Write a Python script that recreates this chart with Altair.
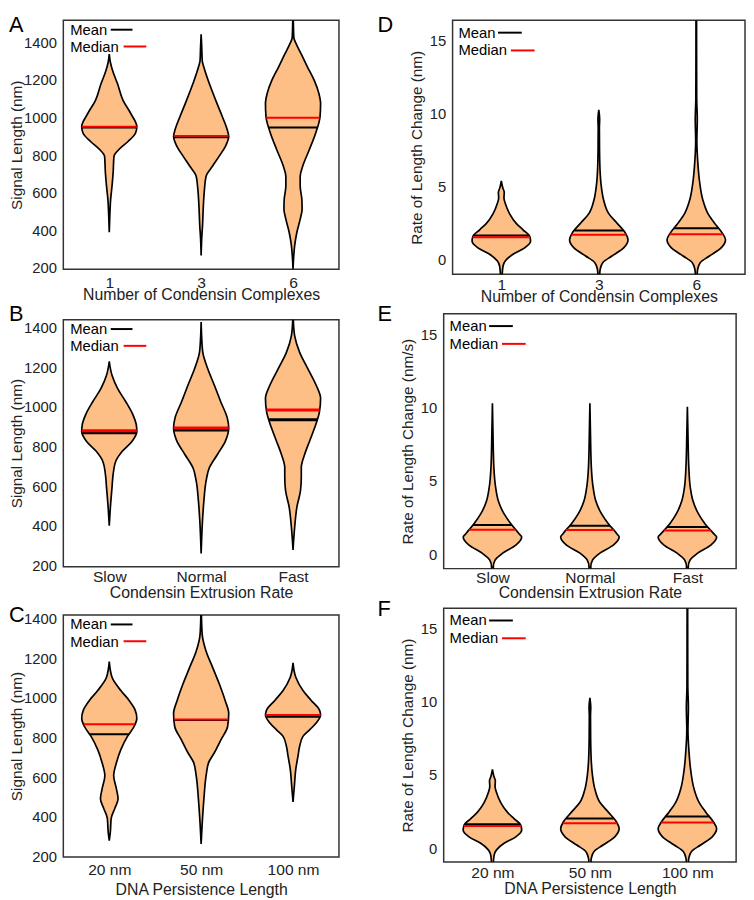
import altair as alt
import numpy as np
import pandas as pd

FONT = "Liberation Sans"
FILL = "#FDBF85"
HALF = 0.3  # half-width of the widest violin, in category units

# ---------------- Panel A: Signal length vs number of condensin complexes ----------------
A_cats = ["1", "3", "6"]
A1_y = [390, 478, 565, 636, 706, 794, 829, 873, 917, 952, 1022, 1092, 1180, 1251, 1295, 1338]
A1_w = [0, 0.02, 0.05, 0.10, 0.14, 0.17, 0.34, 0.68, 0.95, 1.0, 0.78, 0.50, 0.30, 0.12, 0.04, 0]
A3_y = [267, 355, 425, 530, 618, 688, 741, 794, 847, 899, 934, 1005, 1092, 1180, 1268, 1303, 1380, 1444]
A3_w = [0, 0.02, 0.05, 0.08, 0.12, 0.18, 0.41, 0.65, 0.88, 1.0, 0.95, 0.77, 0.53, 0.30, 0.10, 0.04, 0.02, 0]
A6_y = [193, 250, 320, 390, 460, 513, 565, 636, 688, 741, 829, 917, 1005, 1075, 1128, 1198, 1268, 1338, 1391, 1426, 1518]
A6_w = [0, 0.02, 0.06, 0.14, 0.26, 0.33, 0.32, 0.26, 0.26, 0.35, 0.59, 0.82, 0.98, 1.0, 0.94, 0.77, 0.53, 0.30, 0.12, 0.03, 0.01]
A_mean = [948, 896, 947]
A_median = [952, 903, 999]

# ---------------- Panel B: Signal length vs extrusion rate ----------------
B_cats = ["Slow", "Normal", "Fast"]
BS_y = [400, 511, 594, 660, 727, 777, 827, 876, 910, 960, 1026, 1093, 1159, 1229]
BS_w = [0, 0.05, 0.10, 0.14, 0.24, 0.48, 0.83, 1.0, 0.98, 0.86, 0.60, 0.30, 0.10, 0]
BN_y = [261, 428, 527, 627, 694, 760, 827, 893, 943, 1026, 1109, 1192, 1275, 1350, 1428]
BN_w = [0, 0.05, 0.10, 0.18, 0.30, 0.59, 0.88, 1.0, 0.95, 0.71, 0.48, 0.24, 0.06, 0.02, 0]
BF_y = [278, 394, 494, 577, 644, 694, 760, 827, 893, 976, 1043, 1109, 1192, 1275, 1358, 1440]
BF_w = [0, 0.06, 0.14, 0.27, 0.30, 0.30, 0.42, 0.60, 0.78, 0.96, 1.0, 0.84, 0.54, 0.24, 0.06, 0.01]
B_mean = [870, 883, 935]
B_median = [880, 893, 984]

# ---------------- Panel C: Signal length vs DNA persistence length ----------------
C_cats = ["20 nm", "50 nm", "100 nm"]
C20_y = [278, 324, 391, 441, 490, 540, 607, 673, 739, 806, 856, 897, 939, 988, 1038, 1105, 1184]
C20_w = [0, 0.04, 0.07, 0.20, 0.32, 0.26, 0.16, 0.26, 0.42, 0.66, 0.90, 1.0, 0.94, 0.72, 0.42, 0.10, 0]
C50_y = [261, 391, 490, 607, 673, 723, 789, 856, 922, 988, 1071, 1154, 1237, 1320, 1420]
C50_w = [0, 0.05, 0.10, 0.18, 0.27, 0.48, 0.72, 0.96, 1.0, 0.87, 0.66, 0.42, 0.18, 0.04, 0.01]
C100_y = [474, 557, 640, 706, 756, 806, 839, 872, 914, 939, 988, 1038, 1105, 1178]
C100_w = [0, 0.05, 0.10, 0.18, 0.24, 0.36, 0.60, 0.83, 1.0, 0.96, 0.66, 0.36, 0.10, 0]
C_mean = [817, 889, 905]
C_median = [867, 892, 914]

# ---------------- Panel D: Rate of length change vs number of complexes ----------------
D_cats = ["1", "3", "6"]
D1_y = [-1.03, -0.45, -0.11, 0.34, 0.78, 1.23, 1.57, 2.02, 2.46, 3.13, 3.8, 4.2, 4.6, 4.9, 5.37]
D1_w = [0.03, 0.06, 0.14, 0.40, 0.80, 1.0, 0.97, 0.74, 0.51, 0.28, 0.14, 0.09, 0.10, 0.05, 0]
D3_y = [-1.03, -0.67, -0.22, 0.22, 0.78, 1.34, 1.79, 2.46, 3.13, 4.03, 4.93, 5.82, 7.5, 9.0, 9.6, 10.25]
D3_w = [0.03, 0.05, 0.14, 0.45, 0.85, 1.0, 0.91, 0.63, 0.34, 0.17, 0.09, 0.05, 0.025, 0.02, 0.03, 0]
D6_y = [-1.03, -0.67, -0.22, 0.22, 0.78, 1.34, 1.79, 2.46, 3.13, 4.03, 5.37, 6.72, 8.06, 9.6, 11.0, 13.0, 16.4]
D6_w = [0.03, 0.05, 0.14, 0.45, 0.85, 1.0, 0.89, 0.63, 0.40, 0.23, 0.11, 0.05, 0.02, 0.035, 0.015, 0.012, 0.01]
D_mean = [1.63, 1.97, 2.13]
D_median = [1.50, 1.68, 1.72]

# ---------------- Panel E: Rate of length change vs extrusion rate ----------------
E_cats = ["Slow", "Normal", "Fast"]
ES_y = [-0.99, -0.86, -0.41, 0.05, 0.61, 1.17, 1.40, 2.08, 2.75, 3.65, 4.56, 5.91, 8.17, 10.31]
ES_w = [0.03, 0.03, 0.09, 0.34, 0.80, 1.0, 0.91, 0.63, 0.40, 0.20, 0.11, 0.05, 0.02, 0]
EN_y = [-0.99, -0.86, -0.41, 0.05, 0.61, 1.17, 1.40, 2.08, 2.75, 3.65, 4.56, 5.91, 8.17, 10.31]
EN_w = [0.03, 0.03, 0.09, 0.33, 0.80, 1.0, 0.92, 0.63, 0.40, 0.20, 0.11, 0.05, 0.02, 0]
EF_y = [-0.99, -0.86, -0.41, 0.05, 0.61, 1.17, 1.40, 2.08, 2.75, 3.65, 4.56, 5.91, 8.17, 10.08]
EF_w = [0.03, 0.03, 0.09, 0.34, 0.80, 1.0, 0.90, 0.60, 0.38, 0.19, 0.10, 0.05, 0.02, 0]
E_mean = [2.00, 1.94, 1.85]
E_median = [1.67, 1.65, 1.62]

# ---------------- Panel F: Rate of length change vs persistence length ----------------
F_cats = ["20 nm", "50 nm", "100 nm"]
F20_y = [-1.03, -0.45, -0.11, 0.34, 0.78, 1.23, 1.57, 2.02, 2.46, 3.13, 3.8, 4.2, 4.6, 4.9, 5.37]
F20_w = [0.03, 0.06, 0.14, 0.40, 0.80, 1.0, 0.97, 0.74, 0.51, 0.28, 0.14, 0.09, 0.10, 0.05, 0]
F50_y = [-1.03, -0.67, -0.22, 0.22, 0.78, 1.34, 1.79, 2.46, 3.13, 4.03, 4.93, 5.82, 7.5, 9.0, 9.6, 10.25]
F50_w = [0.03, 0.05, 0.14, 0.45, 0.85, 1.0, 0.91, 0.63, 0.34, 0.17, 0.09, 0.05, 0.025, 0.02, 0.03, 0]
F100_y = [-1.03, -0.67, -0.22, 0.22, 0.78, 1.34, 1.79, 2.46, 3.13, 4.03, 5.37, 6.72, 8.06, 9.6, 11.0, 13.0, 16.4]
F100_w = [0.03, 0.05, 0.14, 0.45, 0.85, 1.0, 0.89, 0.63, 0.40, 0.23, 0.11, 0.05, 0.02, 0.035, 0.015, 0.012, 0.01]
F_mean = [1.63, 2.02, 2.17]
F_median = [1.52, 1.70, 1.75]

LEFT_TICKS = [200, 400, 600, 800, 1000, 1200, 1400]
RIGHT_TICKS = [0, 5, 10, 15]


def make_panel(letter, cats, profiles, means, medians, ydom, yticks, ytitle, xtitle,
               w, h, letter_dx, letter_top, xlp, xtp, ytp, leg, stat_w):
    rows = []
    stats = []
    for i, (ys, ws) in enumerate(profiles):
        for y, d in zip(ys, ws):
            rows.append({"pos": i + 1, "y": y, "w": d})
        for name, val in (("Mean", means[i]), ("Median", medians[i])):
            stats.append({"pos": i + 1, "stat": name, "y": val,
                          "w": float(np.interp(val, ys, ws))})
    vdf = pd.DataFrame(rows)
    sdf = pd.DataFrame(stats)

    label_expr = "[" + ",".join("'%s'" % c for c in cats) + "][datum.value - 1]"
    xscale = alt.Scale(domain=[0.5, 3.5], nice=False, zero=False)
    yscale = alt.Scale(domain=ydom, nice=False, zero=False)
    xaxis = alt.Axis(values=[1, 2, 3], labelExpr=label_expr, title=xtitle,
                     labelPadding=xlp, titlePadding=xtp, labelAngle=0)
    yaxis = alt.Axis(values=yticks, format="d", title=ytitle, labelPadding=7, titlePadding=ytp)

    xl = "datum.pos - %f * datum.w" % HALF
    xr = "datum.pos + %f * datum.w" % HALF

    violin = alt.Chart(vdf).transform_calculate(xl=xl, xr=xr).mark_area(
        orient="horizontal", interpolate="monotone", fill=FILL, fillOpacity=1,
        opacity=1, stroke="black", strokeWidth=1.7, clip=True
    ).encode(
        y=alt.Y("y:Q", scale=yscale, axis=yaxis),
        x=alt.X("xl:Q", scale=xscale, axis=xaxis),
        x2="xr:Q",
        detail="pos:N",
    )

    rules = alt.Chart(sdf).transform_calculate(xl=xl, xr=xr).mark_rule(
        strokeWidth=stat_w, clip=True
    ).encode(
        y=alt.Y("y:Q", scale=yscale, axis=yaxis),
        x=alt.X("xl:Q", scale=xscale, axis=xaxis),
        x2="xr:Q",
        color=alt.Color("stat:N", scale=alt.Scale(domain=["Mean", "Median"],
                                                  range=["black", "red"]), legend=None),
    )

    one = pd.DataFrame({"k": [0]})
    t1 = alt.Chart(one).mark_text(text="Mean", align="left", baseline="alphabetic",
                                  font=FONT, fontSize=15, color="black").encode(
        x=alt.value(leg["tx"]), y=alt.value(leg["b1"]))
    t2 = alt.Chart(one).mark_text(text="Median", align="left", baseline="alphabetic",
                                  font=FONT, fontSize=15, color="black").encode(
        x=alt.value(leg["tx"]), y=alt.value(leg["b2"]))
    l1 = alt.Chart(one).mark_rule(color="black", strokeWidth=2).encode(
        x=alt.value(leg["m"][0]), x2=alt.value(leg["m"][1]), y=alt.value(leg["m"][2]))
    l2 = alt.Chart(one).mark_rule(color="red", strokeWidth=2).encode(
        x=alt.value(leg["d"][0]), x2=alt.value(leg["d"][1]), y=alt.value(leg["d"][2]))
    let = alt.Chart(one).mark_text(text=letter, align="left", baseline="top",
                                   font=FONT, fontSize=22, color="black").encode(
        x=alt.value(letter_dx), y=alt.value(-letter_top))

    return alt.layer(violin, rules, t1, t2, l1, l2, let).properties(width=w, height=h)


LEG_L = {"tx": 7, "b1": 14.5, "b2": 32, "m": (48, 70, 9.5), "d": (61, 84, 26.5)}
LEG_R = {"tx": 6, "b1": 17.5, "b2": 35.5, "m": (46, 70, 12.5), "d": (59, 83, 30.5)}

pA = make_panel("A", A_cats, [(A1_y, A1_w), (A3_y, A3_w), (A6_y, A6_w)], A_mean, A_median,
                [193, 1518], LEFT_TICKS, "Signal Length (nm)", "Number of Condensin Complexes",
                279, 252, -55, 5, 6, -3, -1, LEG_L, 2)
pD = make_panel("D", D_cats, [(D1_y, D1_w), (D3_y, D3_w), (D6_y, D6_w)], D_mean, D_median,
                [-1.03, 16.4], RIGHT_TICKS, "Rate of Length Change (nm)", "Number of Condensin Complexes",
                296, 257, -76, 5, 3, -3, 5, LEG_R, 2)
pB = make_panel("B", B_cats, [(BS_y, BS_w), (BN_y, BN_w), (BF_y, BF_w)], B_mean, B_median,
                [194, 1440], LEFT_TICKS, "Signal Length (nm)", "Condensin Extrusion Rate",
                279, 250, -55, 16, 3.5, 0, -1, LEG_L, 3)
pE = make_panel("E", E_cats, [(ES_y, ES_w), (EN_y, EN_w), (EF_y, EF_w)], E_mean, E_median,
                [-0.99, 16.44], RIGHT_TICKS, "Rate of Length Change (nm/s)", "Condensin Extrusion Rate",
                296, 258, -67, 10, 2, -1, 5, LEG_R, 2)
pC = make_panel("C", C_cats, [(C20_y, C20_w), (C50_y, C50_w), (C100_y, C100_w)], C_mean, C_median,
                [195, 1420], LEFT_TICKS, "Signal Length (nm)", "DNA Persistence Length",
                279, 245, -55, 10, 6, 4, -1, LEG_L, 2)
pF = make_panel("F", F_cats, [(F20_y, F20_w), (F50_y, F50_w), (F100_y, F100_w)], F_mean, F_median,
                [-0.94, 16.36], RIGHT_TICKS, "Rate of Length Change (nm)", "DNA Persistence Length",
                296, 257, -67, 9, 4, 0, 5, LEG_R, 2)

chart = alt.concat(
    pA, pD, pB, pE, pC, pF,
    columns=2, spacing={"row": -4, "column": 37}, align="none", bounds="full"
).properties(
    padding={"left": 0, "top": 0, "right": 0, "bottom": 0}
).configure(
    padding={"left": 0, "top": 0, "right": 0, "bottom": 0}
).configure_view(
    stroke="#333333", strokeWidth=1.5
).configure_axis(
    labelFont=FONT, titleFont=FONT,
    labelColor="#222222", titleColor="#222222", titleFontWeight="normal",
    grid=False, ticks=False, tickSize=0, domain=False, labelFlush=False
).configure_axisX(
    labelFontSize=15.75, titleFontSize=16
).configure_axisY(
    labelFontSize=15, titleFontSize=15.5
)

chart.save("out.html", embed_options={"renderer": "svg", "actions": False})
